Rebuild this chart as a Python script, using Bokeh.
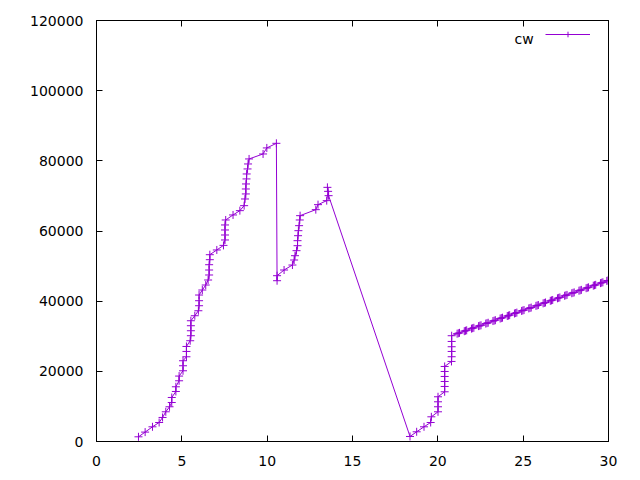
from bokeh.plotting import figure
from bokeh.models import (Range1d, FixedTicker, LinearAxis, Legend, LegendItem,
                          Label, BasicTickFormatter, CustomJSTickFormatter)
from bokeh.embed import file_html
from bokeh.resources import INLINE

series_name = "cw"

x_vals = [
    2.46, 2.85, 3.28, 3.67, 3.87, 4.06, 4.28, 4.41, 4.41, 4.65, 4.65, 4.84, 4.84,
    5.07, 5.07, 5.07, 5.27, 5.27, 5.27, 5.49, 5.53, 5.53, 5.53, 5.53, 5.76, 5.97,
    6.01, 6.01, 6.01, 6.20, 6.40, 6.54, 6.60, 6.60, 6.60, 6.64, 6.64, 7.05, 7.44,
    7.53, 7.53, 7.53, 7.53, 7.57, 8.00, 8.40, 8.65, 8.70, 8.75, 8.75, 8.76, 8.79,
    8.80, 8.85, 8.88, 8.94, 9.76, 9.98, 10.54, 10.58, 10.58, 10.99, 11.48, 11.58,
    11.63, 11.72, 11.78, 11.78, 11.81, 11.83, 11.87, 11.91, 11.93, 12.85, 12.98,
    13.49, 13.57, 13.53, 13.60, 18.37, 18.76, 19.19, 19.58, 19.62, 20.01, 20.01,
    20.01, 20.01, 20.40, 20.40, 20.40, 20.40, 20.40, 20.40, 20.80, 20.81, 20.81,
    20.81, 20.81, 20.81,
    21.13, 21.20, 21.27, 21.55, 21.62, 21.69, 21.97, 22.04, 22.11, 22.39, 22.46,
    22.53, 22.81, 22.88, 22.95, 23.23, 23.30, 23.37, 23.65, 23.72, 23.79, 24.07,
    24.14, 24.21, 24.49, 24.56, 24.63, 24.91, 24.98, 25.05, 25.33, 25.40, 25.47,
    25.75, 25.82, 25.89, 26.17, 26.24, 26.31, 26.59, 26.66, 26.73, 27.01, 27.08,
    27.15, 27.43, 27.50, 27.57, 27.85, 27.92, 27.99, 28.27, 28.34, 28.41, 28.69,
    28.76, 28.83, 29.11, 29.18, 29.25, 29.53, 29.60, 29.67, 29.90, 29.97,
]

y_vals = [
    1340, 2680, 4190, 5420, 6850, 8470, 9900, 11120, 12550, 14260, 15600, 17310,
    18650, 20160, 21590, 23020, 24150, 25670, 27090, 28720, 30150, 31570, 33000,
    34420, 35850, 37270, 38700, 40130, 41750, 43180, 44600, 46030, 47460, 48880,
    50390, 51820, 53240, 54590, 55900, 57440, 58860, 60290, 61720, 63140, 64570,
    65800, 67220, 69130, 70560, 71980, 73410, 74840, 76260, 77690, 79110, 80540,
    81960, 83680, 84990, 45830, 47260, 48880, 50300, 51730, 52960, 54390, 55810,
    57240, 58660, 60090, 61520, 63140, 64370, 66080, 67510, 68650, 71300, 72440,
    70070, 1430, 2770, 4190, 5420, 7040, 8470, 9900, 11320, 12750, 14170, 15690,
    17110, 18540, 19960, 21390, 22820, 24160, 25670, 27010, 28520, 30150,
    30730, 30850, 30970, 31450, 31570, 31690, 32170, 32290, 32410, 32890, 33010,
    33130, 33610, 33730, 33850, 34330, 34450, 34570, 35050, 35170, 35290, 35770,
    35890, 36010, 36490, 36610, 36740, 37220, 37340, 37460, 37940, 38060, 38180,
    38660, 38780, 38900, 39380, 39500, 39620, 40100, 40220, 40340, 40820, 40940,
    41060, 41540, 41660, 41780, 42260, 42380, 42500, 42980, 43100, 43220, 43700,
    43820, 43940, 44420, 44540, 44660, 45140, 45260, 45380, 45780, 45900,
]

x_ticks = [0, 5, 10, 15, 20, 25, 30]
y_ticks = [0, 20000, 40000, 60000, 80000, 100000, 120000]

COLOR = "#9400d3"
FONT = "DejaVu Sans"
FS = "14px"

p = figure(frame_width=512, frame_height=421, output_backend="svg",
           toolbar_location=None, x_range=Range1d(0, 30),
           y_range=Range1d(0, 120000), min_border_left=96, min_border_right=32,
           min_border_top=20, min_border_bottom=39)
p.grid.visible = False
p.outline_line_color = "black"
p.outline_line_width = 1
p.background_fill_color = "white"
p.border_fill_color = "white"

def style_axis(ax, ticks, show_labels, standoff=12):
    ax.ticker = FixedTicker(ticks=ticks)
    ax.major_tick_in = 6
    ax.major_tick_out = 0
    ax.minor_tick_in = 0
    ax.minor_tick_out = 0
    ax.axis_line_color = "black"
    ax.major_tick_line_color = "black"
    if show_labels:
        ax.major_label_text_font = FONT
        ax.major_label_text_font_size = FS
        ax.major_label_text_color = "black"
        ax.major_label_standoff = standoff
    else:
        ax.formatter = CustomJSTickFormatter(code="return ''")
        ax.major_label_standoff = 0

style_axis(p.xaxis[0], x_ticks, True, 14)
style_axis(p.yaxis[0], y_ticks, True, 13)
p.yaxis[0].formatter = BasicTickFormatter(use_scientific=False)

top = LinearAxis()
style_axis(top, x_ticks, False)
p.add_layout(top, "above")
right = LinearAxis()
style_axis(right, y_ticks, False)
p.add_layout(right, "right")

lr = p.line(x_vals, y_vals, line_color=COLOR, line_width=1)
sr = p.scatter(x_vals, y_vals, marker="cross", size=8, line_color=COLOR,
               line_width=1)

leg = Legend(items=[LegendItem(label=" ", renderers=[lr, sr])],
             location=(449, 400), padding=0, margin=0, spacing=0,
             glyph_width=45, glyph_height=14, label_height=14, label_width=0,
             label_standoff=0, label_text_font=FONT, label_text_font_size=FS,
             border_line_color=None, background_fill_alpha=0)
p.add_layout(leg, "center")

p.add_layout(Label(x=25.62, y=114770, text=series_name, text_align="right",
                   text_baseline="alphabetic", text_font=FONT,
                   text_font_size=FS, text_color="black"))

open("out.html", "w").write(file_html(p, INLINE))
